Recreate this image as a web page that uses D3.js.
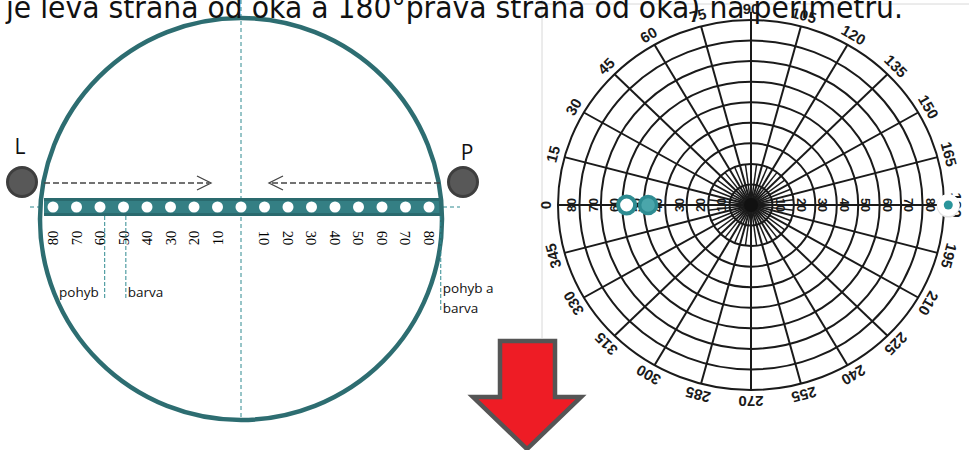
<!DOCTYPE html>
<html>
<head>
<meta charset="utf-8">
<script src="https://cdn.jsdelivr.net/npm/d3@7"></script>
<style>
  body { margin: 0; background: #fff; }
  svg { display: block; }
</style>
</head>
<body>
<svg id="chart" width="969" height="450"></svg>
<script>
// caption line at the top (cut off in the original)
const captionText = "je leva strana od oka a 180°prava strana od oka) na perimetru.";

// left picture: degrees marked on the bar
const barTicks = [80, 70, 60, 50, 40, 30, 20, 10];
const barDots = [-80, -70, -60, -50, -40, -30, -20, -10, 0, 10, 20, 30, 40, 50, 60, 70, 80];
const limitNames = ["pohyb", "barva", "pohyb a barva"];
const limitValues = [-58, -49, 85];

// right picture: perimeter chart
const ringLevels = [10, 20, 30, 40, 50, 60, 70, 80, 90];
const ringLabels = [10, 20, 30, 40, 50, 60, 70, 80];
const angleLabels = [0, 15, 30, 45, 60, 75, 90, 105, 120, 135, 150, 165, 180,
                     195, 210, 225, 240, 255, 270, 285, 300, 315, 330, 345];
const pointNames = ["pohyb", "barva", "pohyb a barva"];
const pointAngles = [0, 0, 180];
const pointRadii = [58, 48, 92];

const teal = "#2d6d71";
const svg = d3.select("#chart");

// ---------- separators ----------
svg.append("line").attr("x1", 542).attr("x2", 542).attr("y1", 0).attr("y2", 338)
  .attr("stroke", "#d8d8d8").attr("stroke-width", 1);
svg.append("line").attr("x1", 538).attr("x2", 969).attr("y1", 4).attr("y2", 4)
  .attr("stroke", "#d8d8d8").attr("stroke-width", 1);

// ---------- left picture ----------
const cxL = 241, cyL = 207;
//offset from centre of bar, in px per degree
const xBar = d3.scaleLinear().domain([-80, 80]).range([cxL - 188, cxL + 188]);

const left = svg.append("g");

left.append("line").attr("x1", cxL).attr("x2", cxL).attr("y1", 0).attr("y2", 420)
  .attr("stroke", "#2f8a90").attr("stroke-width", 1).attr("stroke-dasharray", "4,3");
left.append("line").attr("x1", 30).attr("x2", 460).attr("y1", cyL).attr("y2", cyL)
  .attr("stroke", "#2f8a90").attr("stroke-width", 1).attr("stroke-dasharray", "4,3");

// bar
left.append("rect").attr("x", 44).attr("y", 198).attr("width", 397).attr("height", 18)
  .attr("fill", "#347f84");
left.append("rect").attr("x", 44).attr("y", 198).attr("width", 397).attr("height", 3)
  .attr("fill", "#2a6a6e");
left.append("rect").attr("x", 44).attr("y", 213).attr("width", 397).attr("height", 3)
  .attr("fill", "#2a6a6e");

left.selectAll("circle.dot")
  .data(barDots)
  .enter()
  .append("circle")
  .attr("class", "dot")
  .attr("cx", d => xBar(d))
  .attr("cy", cyL)
  .attr("r", 5.5)
  .attr("fill", "#fff");

// big circle
left.append("circle").attr("cx", cxL).attr("cy", 219).attr("r", 201)
  .attr("fill", "none").attr("stroke", teal).attr("stroke-width", 4.5);

// numbers under the bar, left side reads upward, right side downward
left.selectAll("text.tl")
  .data(barTicks)
  .enter()
  .append("text")
  .attr("class", "tl")
  .attr("transform", d => "translate(" + xBar(-d) + ",238) rotate(-90)")
  .attr("text-anchor", "middle")
  .attr("dy", "0.35em")
  .attr("font-family", "Liberation Serif, serif")
  .attr("font-size", 14.5)
  .text(d => d);
left.selectAll("text.tr")
  .data(barTicks)
  .enter()
  .append("text")
  .attr("class", "tr")
  .attr("transform", d => "translate(" + xBar(d) + ",238) rotate(90)")
  .attr("text-anchor", "middle")
  .attr("dy", "0.35em")
  .attr("font-family", "Liberation Serif, serif")
  .attr("font-size", 14.5)
  .text(d => d);

// limit lines with their names
limitValues.forEach(function(v, i) {
  const x = xBar(v);
  left.append("line").attr("x1", x).attr("x2", x).attr("y1", 216).attr("y2", i == 2 ? 312 : 298)
    .attr("stroke", "#2f8a90").attr("stroke-width", 1).attr("stroke-dasharray", "4,2");
  const t = left.append("text")
    .attr("font-family", "Open Sans, sans-serif")
    .attr("font-size", 13.5)
    .attr("fill", "#111");
  if (i == 0) {
    t.attr("x", x - 6).attr("y", 297).attr("text-anchor", "end").text(limitNames[i]);
  } else if (i == 1) {
    t.attr("x", x + 2).attr("y", 297).text(limitNames[i]);
  } else {
    t.append("tspan").attr("x", x + 2).attr("y", 293).text("pohyb a");
    t.append("tspan").attr("x", x + 2).attr("y", 313).text("barva");
  }
});

// dashed arrows
const arrowY = 183;
left.append("line").attr("x1", 44).attr("x2", 209).attr("y1", arrowY).attr("y2", arrowY)
  .attr("stroke", "#444").attr("stroke-width", 1.3).attr("stroke-dasharray", "6,3");
left.append("path").attr("d", "M197,176 L211,183 L197,190")
  .attr("fill", "none").attr("stroke", "#444").attr("stroke-width", 1.3);
left.append("line").attr("x1", 440).attr("x2", 270).attr("y1", arrowY).attr("y2", arrowY)
  .attr("stroke", "#444").attr("stroke-width", 1.3).attr("stroke-dasharray", "6,3");
left.append("path").attr("d", "M283,176 L269,183 L283,190")
  .attr("fill", "none").attr("stroke", "#444").attr("stroke-width", 1.3);

// eyes
[[22, "L"], [463, "P"]].forEach(function(e) {
  left.append("circle").attr("cx", e[0]).attr("cy", 182).attr("r", 14.5)
    .attr("fill", "#585858").attr("stroke", "#3e3e3e").attr("stroke-width", 3);
  left.append("text").attr("x", e[0] - 2 + (e[1] == "P" ? 6 : 0)).attr("y", e[1] == "P" ? 160 : 154)
    .attr("text-anchor", "middle")
    .attr("font-family", "Open Sans, sans-serif")
    .attr("font-size", 21).attr("fill", "#111")
    .text(e[1]);
});

// ---------- caption ----------
svg.append("text")
  .attr("x", 6).attr("y", 18)
  .attr("font-family", "DejaVu Sans, Verdana, sans-serif")
  .attr("font-size", 30)
  .attr("textLength", 897)
  .attr("lengthAdjust", "spacingAndGlyphs")
  .attr("fill", "#111")
  .text(captionText);

// ---------- right picture (perimeter) ----------
const cxP = 751, cyP = 205;
const rX = d3.scaleLinear().domain([0, 90]).range([0, 193]);
const rY = d3.scaleLinear().domain([0, 90]).range([0, 185]);
function px(a, r) { return cxP - rX(r) * Math.cos(a * Math.PI / 180); }
function py(a, r) { return cyP - rY(r) * Math.sin(a * Math.PI / 180); }

const polar = svg.append("g");

polar.selectAll("ellipse.ring")
  .data(ringLevels)
  .enter()
  .append("ellipse")
  .attr("class", "ring")
  .attr("cx", cxP).attr("cy", cyP)
  .attr("rx", d => rX(d)).attr("ry", d => rY(d))
  .attr("fill", "none").attr("stroke", "#1a1a1a").attr("stroke-width", 2);

// spokes every 15 deg, denser ones near the centre
polar.selectAll("line.spoke")
  .data(angleLabels)
  .enter()
  .append("line")
  .attr("class", "spoke")
  .attr("x1", cxP).attr("y1", cyP)
  .attr("x2", d => px(d, d == 90 ? 94 : 90))
  .attr("y2", d => py(d, d == 90 ? 94 : 90))
  .attr("stroke", "#1a1a1a").attr("stroke-width", 2);
polar.selectAll("line.inner")
  .data(angleLabels)
  .enter()
  .append("line")
  .attr("class", "inner")
  .attr("x1", cxP).attr("y1", cyP)
  .attr("x2", d => px(d + 7.5, 20))
  .attr("y2", d => py(d + 7.5, 20))
  .attr("stroke", "#1a1a1a").attr("stroke-width", 1.5);
polar.append("circle").attr("cx", cxP).attr("cy", cyP).attr("r", 7).attr("fill", "#111");

// angle labels around the edge
polar.selectAll("text.ang")
  .data(angleLabels)
  .enter()
  .append("text")
  .attr("class", "ang")
  .attr("transform", d => "translate(" + px(d, 95.5) + "," + py(d, 95.5) + ") rotate(" + (d - 90) + ")")
  .attr("text-anchor", "middle")
  .attr("dy", "0.35em")
  .attr("font-family", "Liberation Sans, Arial, sans-serif")
  .attr("font-weight", "bold")
  .attr("font-size", 15)
  .attr("fill", "#1a1a1a")
  .text(d => d);

// ring labels along the horizontal axis
polar.selectAll("text.rl")
  .data(ringLabels)
  .enter()
  .append("text")
  .attr("class", "rl")
  .attr("transform", d => "translate(" + px(0, d + 3.5) + "," + cyP + ") rotate(-90)")
  .attr("text-anchor", "middle").attr("dy", "0.35em")
  .attr("font-family", "Liberation Sans, Arial, sans-serif")
  .attr("font-weight", "bold").attr("font-size", 12.5).attr("fill", "#1a1a1a")
  .text(d => d);
polar.selectAll("text.rr")
  .data(ringLabels)
  .enter()
  .append("text")
  .attr("class", "rr")
  .attr("transform", d => "translate(" + px(180, d + 3.5) + "," + cyP + ") rotate(90)")
  .attr("text-anchor", "middle").attr("dy", "0.35em")
  .attr("font-family", "Liberation Sans, Arial, sans-serif")
  .attr("font-weight", "bold").attr("font-size", 12.5).attr("fill", "#1a1a1a")
  .text(d => d);

// measured points
pointNames.forEach(function(n, i) {
  const x = px(pointAngles[i], pointRadii[i]), y = py(pointAngles[i], pointRadii[i]);
  if (n == "pohyb") {
    polar.append("circle").attr("cx", x).attr("cy", y).attr("r", 8.5)
      .attr("fill", "#fff").attr("stroke", "#2e8c92").attr("stroke-width", 4);
  } else if (n == "barva") {
    polar.append("circle").attr("cx", x).attr("cy", y).attr("r", 8.5)
      .attr("fill", "#4aa6ab").attr("stroke", "#2e8c92").attr("stroke-width", 3.5);
  } else {
    polar.append("circle").attr("cx", x).attr("cy", y + 1).attr("r", 11.5)
      .attr("fill", "#e2e2e2");
    polar.append("circle").attr("cx", x).attr("cy", y).attr("r", 11)
      .attr("fill", "#fff");
    polar.append("circle").attr("cx", x).attr("cy", y).attr("r", 4.5)
      .attr("fill", "#2a959b");
  }
});

// ---------- red arrow ----------
const arrowPts = [[500, 341], [555, 341], [555, 397], [581, 397], [527, 449], [473, 397], [500, 397]];
svg.append("path")
  .attr("d", d3.line()(arrowPts) + "Z")
  .attr("fill", "#ee1c25").attr("stroke", "#555").attr("stroke-width", 4.5)
  .attr("stroke-linejoin", "miter");
</script>
</body>
</html>
